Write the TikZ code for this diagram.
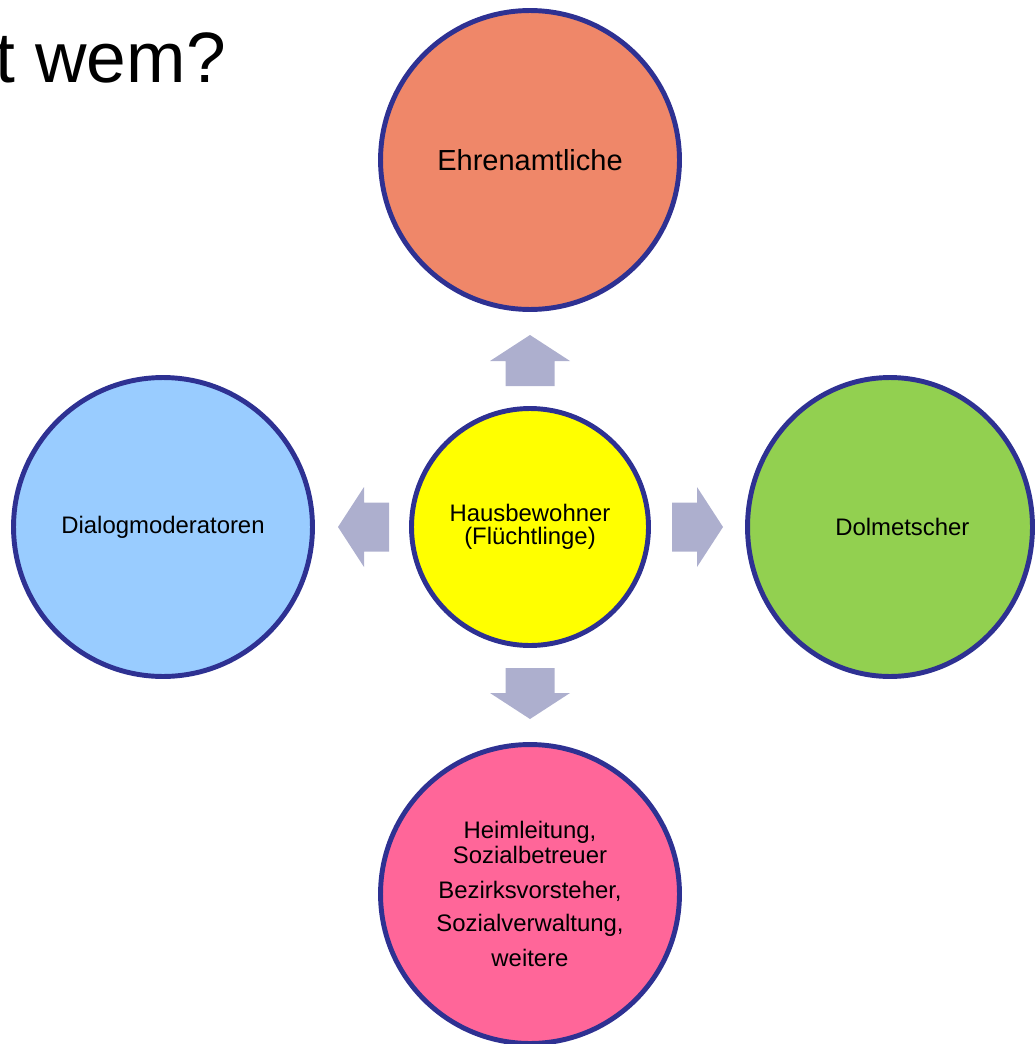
\documentclass[tikz,border=0pt]{standalone}
\usepackage{fontspec}
\setmainfont{Liberation Sans}
\usetikzlibrary{shapes.geometric}

\definecolor{rimblue}{HTML}{2E3192}
\definecolor{ehrenfill}{HTML}{EF8769}
\definecolor{dialogfill}{HTML}{99CCFF}
\definecolor{dolmfill}{HTML}{92D050}
\definecolor{hausfill}{HTML}{FFFF00}
\definecolor{heimfill}{HTML}{FF6699}
\definecolor{arrowgrey}{HTML}{ADAFCE}

\begin{document}
\begin{tikzpicture}[x=0.02cm, y=-0.02cm,
    bubble/.style={circle, draw=rimblue, line width=2.8pt, minimum size=5.98cm,
        inner sep=0pt, align=center, font=\fontsize{13.6}{16}\selectfont},
    blockarrow/.pic={\fill[arrowgrey] (0,-24.5) -- (25,-24.5) -- (25,-40) -- (51,0)
        -- (25,40) -- (25,24.5) -- (0,24.5) -- cycle;}]
    \useasboundingbox (0,0) rectangle (1035,1044);

    \node (title) at (232,83) [anchor=base east, font=\fontsize{40.6}{48}\selectfont] {t wem?};

    \node (haus) at (530,527) [bubble, fill=hausfill, minimum size=4.74cm,
        font=\fontsize{13.6}{13.2}\selectfont] {Hausbewohner\\(Flüchtlinge)};

    \node (ehren) at (530,160) [bubble, fill=ehrenfill, font=\fontsize{16.5}{19}\selectfont] {Ehrenamtliche};
    \node (dialog) at (163,527) [bubble, fill=dialogfill] {Dialogmoderatoren};
    \node (dolm) at (890,527) [bubble, ellipse, fill=dolmfill, minimum width=5.7cm, minimum height=5.98cm] {\hspace*{14pt}Dolmetscher};
    \node (heim) at (530,894) [bubble, fill=heimfill, font=\fontsize{13.6}{14.2}\selectfont]
        {Heimleitung,\\Sozialbetreuer\\[5.6pt]Bezirksvorsteher,\\[5pt]Sozialverwaltung,\\[5.6pt]weitere};

    % arrows out of the middle
    \pic[rotate=90] at (530,386) {blockarrow};
    \pic[rotate=180] at (389,527) {blockarrow};
    \pic at (672,527) {blockarrow};
    \pic[rotate=-90] at (530,668) {blockarrow};
\end{tikzpicture}
\end{document}
